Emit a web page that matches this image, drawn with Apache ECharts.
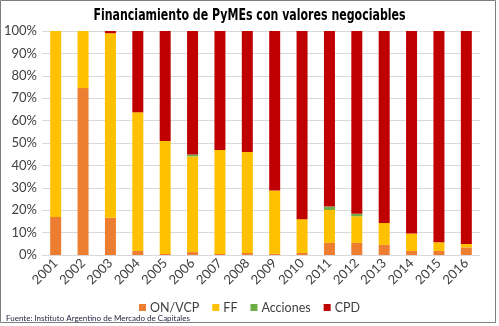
<!DOCTYPE html>
<html>
<head>
<meta charset="utf-8">
<script src="https://cdn.jsdelivr.net/npm/echarts@6/dist/echarts.min.js"></script>
<style>
html,body{margin:0;padding:0;background:#fff;}
#chart{width:499px;height:326px;}
</style>
</head>
<body>
<div id="chart"></div>
<script>
var categories = ['2001','2002','2003','2004','2005','2006','2007','2008','2009','2010','2011','2012','2013','2014','2015','2016'];
var onVcp    = [17.0, 74.5, 16.6, 1.8, 0.5, 1.3, 0.5, 0.9, 0.5, 0.9, 5.4, 5.4, 4.5, 1.8, 1.8, 3.4];
var ff       = [83.0, 25.5, 82.4, 61.9, 50.4, 42.7, 46.4, 45.1, 28.3, 15.1, 14.7, 11.9, 9.8, 7.8, 3.9, 1.5];
var acciones = [0, 0, 0, 0, 0, 0.9, 0, 0, 0, 0, 1.5, 1.1, 0, 0, 0, 0];
var cpd      = [0, 0, 1.0, 36.3, 49.1, 55.1, 53.1, 54.0, 71.2, 84.0, 78.4, 81.6, 85.7, 90.4, 94.3, 95.1];
var yTicks = [0,10,20,30,40,50,60,70,80,90,100];

var chart = echarts.init(document.getElementById('chart'), null, {renderer:'canvas'});
var font = 'Lato';
function s(name, data, color){
  return {name:name, type:'bar', stack:'t', data:data, barWidth:11,
    itemStyle:{color:color}, emphasis:{disabled:true}};
}
chart.setOption({
  animation:false,
  grid:{left:42, right:19, top:31, bottom:71},
  legend:{top:296, left:'center', icon:'rect', itemWidth:7, itemHeight:7, itemGap:13,
    textStyle:{fontFamily:font, fontSize:12.5, color:'#404040', padding:[0,0,0,-1]},
    data:['ON/VCP','FF','Acciones','CPD']},
  xAxis:{type:'category', data:categories,
    axisTick:{show:false}, axisLine:{lineStyle:{color:'#d9d9d9'}},
    axisLabel:{rotate:45, margin:6, interval:0, fontFamily:font, fontSize:13, color:'#404040'}},
  yAxis:{type:'value', min:0, max:100, interval:10,
    axisLabel:{formatter:function(v){return v+'%';}, fontFamily:font, fontSize:13, color:'#404040', margin:5},
    splitLine:{lineStyle:{color:'#d9d9d9'}}, axisLine:{show:false}, axisTick:{show:false}},
  graphic:[
    {type:'rect', shape:{x:0.5,y:0.5,width:495,height:322}, style:{fill:'none', stroke:'#7f7f7f', lineWidth:1}, z:-10},
    {type:'text', x:249.5, y:16, scaleX:0.79, scaleY:1,
      style:{text:'Financiamiento de PyMEs con valores negociables', fontFamily:'DejaVu Sans Condensed', fontWeight:'bold', fontSize:15.5, fill:'#000', align:'center', verticalAlign:'middle'}},
    {type:'text', left:6, top:314, style:{text:'Fuente: Instituto Argentino de Mercado de Capitales', fontFamily:font, fontSize:8, fill:'#1f1f3f'}}
  ],
  series:[
    s('ON/VCP', onVcp, '#ED7D31'),
    s('FF', ff, '#FFC000'),
    s('Acciones', acciones, '#70AD47'),
    s('CPD', cpd, '#C00000')
  ]
});
</script>
</body>
</html>
